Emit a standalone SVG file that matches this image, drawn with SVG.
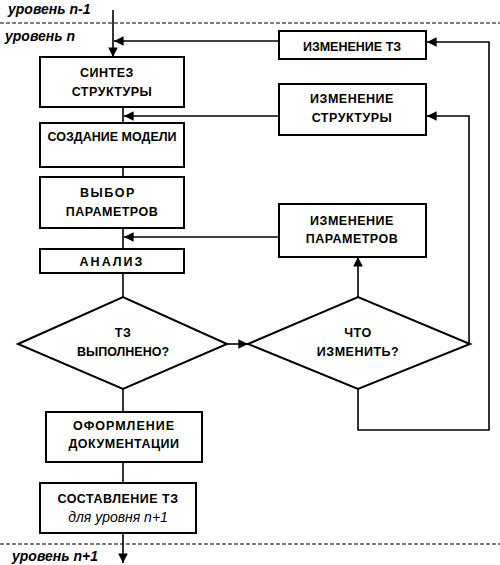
<svg xmlns="http://www.w3.org/2000/svg" width="500" height="565" viewBox="0 0 500 565">
  <style>
    .box { fill: #fff; stroke: #000; stroke-width: 2; }
    .t { font-family: "Liberation Sans", Arial, sans-serif; font-size: 12.5px; font-weight: bold; letter-spacing: 0.5px; text-anchor: middle; fill: #000; }
    .ti { font-family: "Liberation Sans", Arial, sans-serif; font-size: 14px; font-style: italic; text-anchor: middle; fill: #000; }
    .lvl { font-family: "Liberation Sans", Arial, sans-serif; font-size: 14px; font-weight: bold; font-style: italic; fill: #000; }
    .dash { stroke: #000; stroke-width: 1; stroke-dasharray: 4 2; fill: none; }
    .c { stroke: #000; stroke-width: 1.6; fill: none; }
    .ca { stroke: #000; stroke-width: 1.6; fill: none; marker-end: url(#ah); }
  </style>
  <defs>
    <marker id="ah" viewBox="0 0 10 10" refX="10" refY="5" markerWidth="6" markerHeight="6" markerUnits="strokeWidth" orient="auto">
      <path d="M0,0 L10,5 L0,10 Z" fill="#000"/>
    </marker>
  </defs>
  <rect width="500" height="565" fill="#fff"/>

  <!-- level boundaries -->
  <g id="levels">
    <line class="dash" x1="0" y1="23" x2="500" y2="23"/>
    <line class="dash" x1="0" y1="544" x2="500" y2="544"/>
    <text class="lvl" x="8" y="14">уровень n-1</text>
    <text class="lvl" x="5" y="41">уровень n</text>
    <text class="lvl" x="12" y="561">уровень n+1</text>
  </g>

  <g id="connectors">
    <path class="ca" d="M113,10 V57"/>
    <path class="ca" d="M279,41 H114"/>
    <path class="c" d="M123,107 V123"/>
    <path class="ca" d="M279,116 H124"/>
    <path class="c" d="M123,167 V177"/>
    <path class="c" d="M123,228 V249"/>
    <path class="ca" d="M279,237 H124"/>
    <path class="c" d="M123,273 V297"/>
    <path class="ca" d="M227,344 H248"/>
    <path class="ca" d="M358,297 V257"/>
    <path class="ca" d="M469,344 V116 H427"/>
    <path class="ca" d="M358,389 V430 H489 V42 H427"/>
    <path class="c" d="M123,389 V412"/>
    <path class="c" d="M123,462 V483"/>
    <path class="ca" d="M123,533 V563"/>
  </g>

  <g id="synthesis">
    <rect class="box" x="40" y="57" width="144" height="50"/>
    <text class="t" x="107" y="77">СИНТЕЗ</text>
    <text class="t" x="112" y="96">СТРУКТУРЫ</text>
  </g>
  <g id="model">
    <rect class="box" x="40" y="123" width="144" height="44"/>
    <text class="t" x="112" y="141" style="letter-spacing:0">СОЗДАНИЕ МОДЕЛИ</text>
  </g>
  <g id="params">
    <rect class="box" x="40" y="177" width="144" height="51"/>
    <text class="t" x="108" y="197" style="letter-spacing:1.5px">ВЫБОР</text>
    <text class="t" x="112" y="216">ПАРАМЕТРОВ</text>
  </g>
  <g id="analysis">
    <rect class="box" x="40" y="249" width="144" height="24"/>
    <text class="t" x="112" y="266" style="letter-spacing:2px">АНАЛИЗ</text>
  </g>
  <g id="check">
    <polygon class="box" points="18,344 123,297 227,344 123,389"/>
    <text class="t" x="123" y="337">ТЗ</text>
    <text class="t" x="123" y="356" style="letter-spacing:0">ВЫПОЛНЕНО?</text>
  </g>
  <g id="what">
    <polygon class="box" points="248,344 358,297 470,344 358,389"/>
    <text class="t" x="358" y="337">ЧТО</text>
    <text class="t" x="358" y="356">ИЗМЕНИТЬ?</text>
  </g>
  <g id="change-spec">
    <rect class="box" x="279" y="31" width="147" height="28"/>
    <text class="t" x="352" y="51" style="letter-spacing:0">ИЗМЕНЕНИЕ ТЗ</text>
  </g>
  <g id="change-structure">
    <rect class="box" x="279" y="84" width="147" height="51"/>
    <text class="t" x="352" y="103">ИЗМЕНЕНИЕ</text>
    <text class="t" x="352" y="122">СТРУКТУРЫ</text>
  </g>
  <g id="change-params">
    <rect class="box" x="279" y="204" width="147" height="53"/>
    <text class="t" x="352" y="225">ИЗМЕНЕНИЕ</text>
    <text class="t" x="352" y="243">ПАРАМЕТРОВ</text>
  </g>
  <g id="docs">
    <rect class="box" x="46" y="412" width="156" height="50"/>
    <text class="t" x="124" y="430" style="letter-spacing:1px">ОФОРМЛЕНИЕ</text>
    <text class="t" x="124" y="448">ДОКУМЕНТАЦИИ</text>
  </g>
  <g id="next-spec">
    <rect class="box" x="40" y="483" width="156" height="50"/>
    <text class="t" x="118" y="503">СОСТАВЛЕНИЕ ТЗ</text>
    <text class="ti" x="118" y="522">для уровня n+1</text>
  </g>
</svg>
